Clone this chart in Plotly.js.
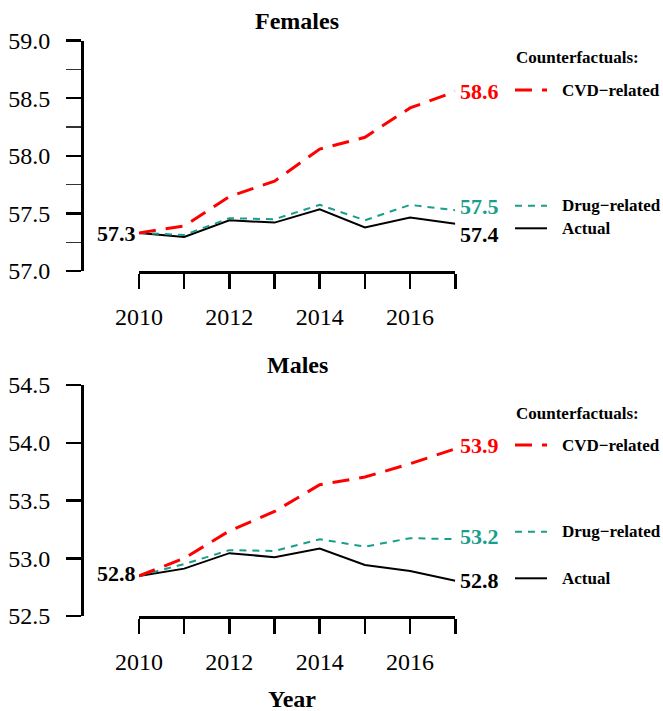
<!DOCTYPE html>
<html>
<head>
<meta charset="utf-8">
<script src="https://cdn.plot.ly/plotly-3.0.1.min.js"></script>
<style>html,body{margin:0;padding:0;background:#fff;}#chart{width:663px;height:711px;}</style>
</head>
<body>
<div id="chart"></div>
<script>
// ---- data ----
var years = [2010, 2011, 2012, 2013, 2014, 2015, 2016, 2017];
var yearLabels = ["2010", "", "2012", "", "2014", "", "2016", ""];

var femalesActual = [57.33, 57.296, 57.44, 57.42, 57.536, 57.377, 57.464, 57.41];
var femalesDrug   = [57.33, 57.313, 57.458, 57.449, 57.574, 57.44, 57.574, 57.528];
var femalesCVD    = [57.33, 57.391, 57.646, 57.78, 58.058, 58.16, 58.415, 58.557];

var malesActual = [52.847, 52.91, 53.044, 53.009, 53.084, 52.942, 52.89, 52.806];
var malesDrug   = [52.847, 52.95, 53.07, 53.063, 53.165, 53.10, 53.174, 53.165];
var malesCVD    = [52.847, 53.0, 53.237, 53.405, 53.636, 53.703, 53.818, 53.948];

var panelTitles = ["Females", "Males"];
var seriesNames = ["Actual", "Drug\u2212related", "CVD\u2212related"];
var legendTitle = "Counterfactuals:";
var xTitle = "Year";

// ---- styles ----
var W = 663, H = 711;
var FONT = "Liberation Serif, Times New Roman, serif";
var RED = "#FF0000", TEAL = "#1A9E8C", BLACK = "#000000";
function px(x) { return x / W; }
function py(y) { return 1 - y / H; }

var styles = [
  {color: BLACK, dash: "solid", width: 2},
  {color: TEAL, dash: "7px,6px", width: 2},
  {color: RED, dash: "17px,10px", width: 3}
];

var panels = [
  {series: [femalesActual, femalesDrug, femalesCVD], xa: "x", ya: "y",
   ydom: [py(271), py(40.5)], yrange: [57, 59], minor: true,
   titleY: 21, legTitleY: 57, keyY: [228.3, 205.7, 90],
   endShift: [-11, 3.5, 0.5], startShift: -1},
  {series: [malesActual, malesDrug, malesCVD], xa: "x2", ya: "y2",
   ydom: [py(616), py(385)], yrange: [52.5, 54.5], minor: false,
   titleY: 365, legTitleY: 413, keyY: [578.3, 531.7, 445],
   endShift: [0.5, 2.5, 3.5], startShift: 2}
];

var traces = [];
var annotations = [];
var shapes = [];
var layout = {
  width: W, height: H,
  margin: {l: 0, r: 0, t: 0, b: 0},
  paper_bgcolor: "#fff", plot_bgcolor: "#fff",
  showlegend: false, hovermode: false,
  font: {family: FONT, color: "#000", size: 24}
};

panels.forEach(function (p, i) {
  var xKey = i === 0 ? "xaxis" : "xaxis2";
  var yKey = i === 0 ? "yaxis" : "yaxis2";
  p.series.forEach(function (s, k) {
    traces.push({
      x: years, y: s, xaxis: p.xa, yaxis: p.ya, type: "scatter", mode: "lines",
      line: {color: styles[k].color, dash: styles[k].dash, width: styles[k].width},
      name: seriesNames[k]
    });
    // end label
    annotations.push({
      xref: p.xa, yref: p.ya, x: years[years.length - 1], y: s[s.length - 1],
      text: "<b>" + s[s.length - 1].toFixed(1) + "</b>",
      showarrow: false, xanchor: "left", yanchor: "middle",
      xshift: 3, yshift: p.endShift[k],
      font: {family: FONT, size: 22, color: styles[k].color}
    });
    // legend key + text
    shapes.push({
      type: "line", xref: "paper", yref: "paper",
      x0: px(515), x1: px(547), y0: py(p.keyY[k]), y1: py(p.keyY[k]),
      line: {color: styles[k].color, dash: styles[k].dash, width: styles[k].width}
    });
    annotations.push({
      xref: "paper", yref: "paper", x: px(560), y: py(p.keyY[k]),
      text: "<b>" + seriesNames[k] + "</b>", showarrow: false,
      xanchor: "left", yanchor: "middle",
      font: {family: FONT, size: 17, color: "#000"}
    });
  });
  // start label
  annotations.push({
    xref: p.xa, yref: p.ya, x: years[0], y: p.series[0][0],
    text: "<b>" + p.series[0][0].toFixed(1) + "</b>",
    showarrow: false, xanchor: "right", yanchor: "middle",
    xshift: -1, yshift: p.startShift,
    font: {family: FONT, size: 22, color: "#000"}
  });
  // panel title
  annotations.push({
    xref: "paper", yref: "paper", x: px(297), y: py(p.titleY),
    text: "<b>" + panelTitles[i] + "</b>", showarrow: false,
    xanchor: "center", yanchor: "middle",
    font: {family: FONT, size: 24, color: "#000"}
  });
  // legend title
  annotations.push({
    xref: "paper", yref: "paper", x: px(514), y: py(p.legTitleY),
    text: "<b>" + legendTitle + "</b>", showarrow: false,
    xanchor: "left", yanchor: "middle",
    font: {family: FONT, size: 17, color: "#000"}
  });

  layout[xKey] = {
    domain: [px(139), px(455.3)], range: [2010, 2017],
    anchor: p.ya, showgrid: false, zeroline: false,
    showline: true, linecolor: "#000", linewidth: 2.5,
    ticks: "outside", ticklen: 15, tickwidth: 2.5, tickcolor: "#000",
    tickvals: years, ticktext: yearLabels,
    ticklabelstandoff: 8,
    tickfont: {family: FONT, size: 24, color: "#000"}
  };
  var ya = {
    domain: p.ydom, range: p.yrange,
    anchor: "free", position: px(82), showgrid: false, zeroline: false,
    showline: true, linecolor: "#000", linewidth: 2.5,
    ticks: "outside", ticklen: 15, tickwidth: 2.5, tickcolor: "#000",
    tick0: p.yrange[0], dtick: 0.5, tickformat: ".1f",
    ticklabelstandoff: 11,
    tickfont: {family: FONT, size: 24, color: "#000"}
  };
  if (p.minor) {
    ya.minor = {dtick: 0.25, tick0: p.yrange[0], ticks: "outside", ticklen: 15,
                tickwidth: 1.2, tickcolor: "#333", showgrid: false};
  }
  layout[yKey] = ya;
});

// x-axis title
annotations.push({
  xref: "paper", yref: "paper", x: px(292), y: py(699),
  text: "<b>" + xTitle + "</b>", showarrow: false,
  xanchor: "center", yanchor: "middle",
  font: {family: FONT, size: 24, color: "#000"}
});

layout.annotations = annotations;
layout.shapes = shapes;

Plotly.newPlot("chart", traces, layout, {staticPlot: true, displayModeBar: false});
</script>
</body>
</html>
